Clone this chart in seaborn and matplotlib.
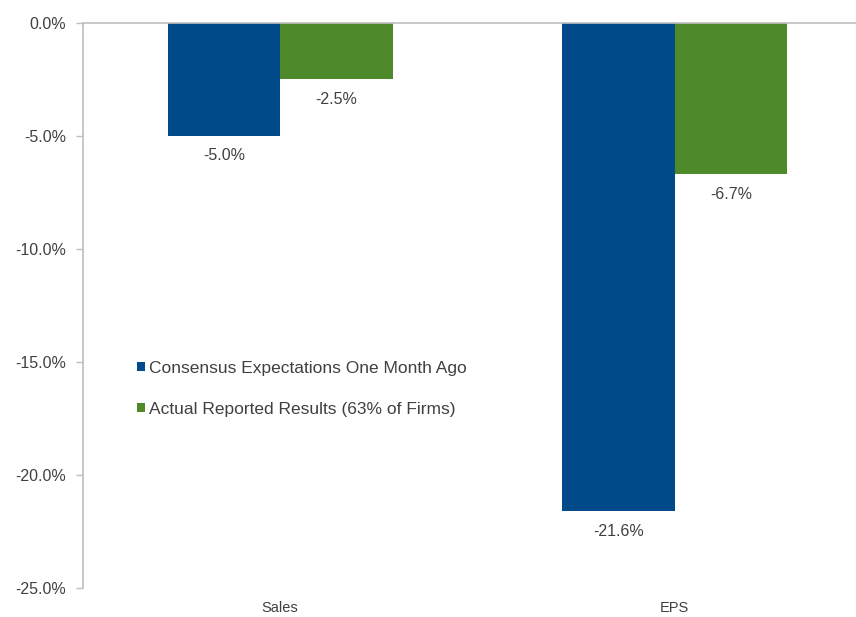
import matplotlib
matplotlib.use("Agg")
import matplotlib.pyplot as plt
import seaborn as sns
from pandas import DataFrame

# Values (percent change)
categories = ["Sales", "EPS"]
series = ["Consensus Expectations One Month Ago", "Actual Reported Results (63% of Firms)"]
consensus = [-5.0, -21.6]
actual = [-2.5, -6.7]
y_ticks = [0, -5, -10, -15, -20, -25]

df = DataFrame({
    "category": categories * 2,
    "series": [series[0]] * len(categories) + [series[1]] * len(categories),
    "value": consensus + actual,
})

sns.set_theme(style="white")
plt.rcParams['font.family'] = ['Liberation Sans', 'DejaVu Sans']
text_color = "#404040"

fig = plt.figure(figsize=(8.56, 6.17), dpi=100)
ax = fig.add_axes([0.097, 0.047, 0.903, 0.916])

sns.barplot(data=df, x="category", y="value", hue="series", hue_order=series,
            palette=["#004a8a", "#4f8a2a"], width=0.57, gap=0, saturation=1,
            ax=ax, edgecolor="none")

for container in ax.containers:
    ax.bar_label(container, fmt="%.1f%%", padding=9, fontsize=11.5, color=text_color)

ax.set(xlim=(-0.5, 1.46), ylim=(-25, 0), xlabel="", ylabel="")
ax.set_yticks(y_ticks)
ax.set_yticklabels(["{:.1f}%".format(t) for t in y_ticks])
ax.tick_params(axis="y", left=True, length=5, width=1, color="#bfbfbf",
               labelsize=11.5, labelcolor=text_color, pad=7)
ax.tick_params(axis="x", bottom=False, labelsize=10.5, labelcolor=text_color, pad=3)

for side in ["right", "bottom"]:
    ax.spines[side].set_visible(False)
for side in ["left", "top"]:
    ax.spines[side].set_color("#bfbfbf")
    ax.spines[side].set_linewidth(1.2)

ax.legend(loc="upper left", bbox_to_anchor=(0.05, 0.43), frameon=False,
          fontsize=12.5, handlelength=0.45, handleheight=0.45, handletextpad=0.2,
          labelspacing=1.5, labelcolor=text_color)

fig.savefig("out.png", dpi=100)
